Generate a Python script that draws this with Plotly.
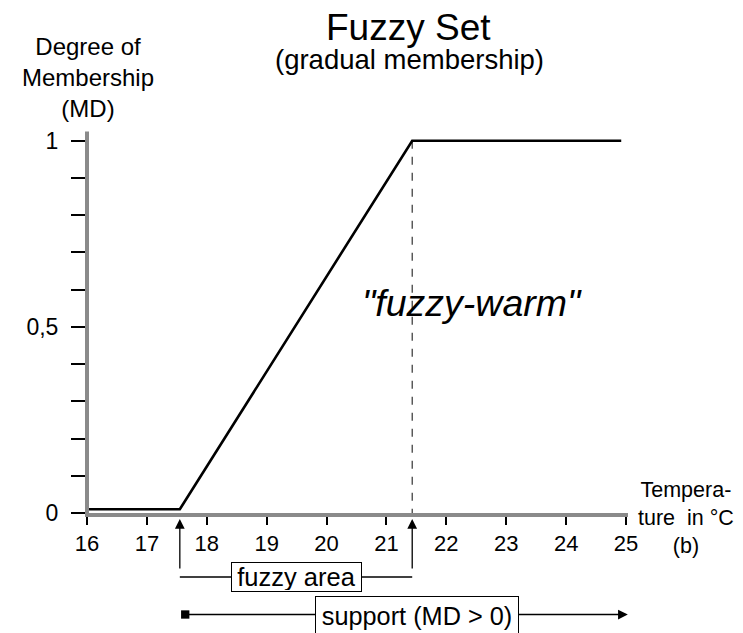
import plotly.graph_objects as go

# ---------------- data ----------------
temperature = [16.02, 17.55, 21.43, 24.92]
membership = [0.01, 0.01, 1.0, 1.0]

fuzzy_start = 17.55      # start of fuzzy area / support
fuzzy_end = 21.43        # full membership reached
support_end = 25.03      # support arrow reaches end of axis

x_tick_vals = [16, 17, 18, 19, 20, 21, 22, 23, 24, 25]
x_tick_text = ["16", "17", "18", "19", "20", "21", "22", "23", "24", "25"]
y_tick_vals = [0, 0.1, 0.2, 0.3, 0.4, 0.5, 0.6, 0.7, 0.8, 0.9, 1.0]
y_tick_text = ["0", "", "", "", "", "0,5", "", "", "", "", "1"]

# ---------------- layout geometry ----------------
OFF = 8                      # page body margin
W, H = 735, 625
L, R, T, B = 79, 115, 122, 120
PW = W - L - R
PH = H - T - B
BOTTOM = H - B

X_RANGE = [16, 25.033]
Y_RANGE = [0, 1.0287]

FONT = "Arial, 'Liberation Sans', sans-serif"


def px_x(p):
    """page pixel x -> paper fraction"""
    return (p - OFF - L) / PW


def px_y(p):
    """page pixel y -> paper fraction"""
    return (BOTTOM - (p - OFF)) / PH


fig = go.Figure()

# dashed guide at full membership
fig.add_trace(go.Scatter(
    x=[fuzzy_end, fuzzy_end], y=[1.0, 0.0], mode="lines",
    line=dict(color="#333333", width=1.2, dash="8px,8px"),
    hoverinfo="skip", showlegend=False))

# membership function
fig.add_trace(go.Scatter(
    x=temperature, y=membership, mode="lines",
    line=dict(color="black", width=2.6),
    hoverinfo="skip", showlegend=False))

shapes = [
    # y-axis gray line
    dict(type="line", xref="paper", yref="paper",
         x0=0, x1=0, y0=px_y(517), y1=px_y(131.5),
         line=dict(color="#8a8a8a", width=4)),
    # fuzzy area bracket horizontal line
    dict(type="line", xref="x", yref="paper",
         x0=fuzzy_start, x1=fuzzy_end, y0=px_y(577), y1=px_y(577),
         line=dict(color="black", width=1.3)),
]

annotations = []
# fuzzy area arrows
for xv in (fuzzy_start, fuzzy_end):
    annotations.append(dict(
        x=xv, y=px_y(519), xref="x", yref="paper", text=" ",
        showarrow=True, ax=0, ay=58, axref="pixel", ayref="pixel",
        arrowhead=2, arrowsize=1.5, arrowwidth=1.3, arrowcolor="black",
        standoff=0, startstandoff=0))
# support arrow
annotations.append(dict(
    x=support_end, y=px_y(614.5), xref="x", yref="paper", text=" ",
    showarrow=True, ax=fuzzy_start + 0.04, ay=0, axref="x", ayref="pixel",
    arrowside="end+start", arrowhead=2, startarrowhead=7,
    arrowsize=1.5, startarrowsize=1.6, arrowwidth=1.3, arrowcolor="black",
    standoff=0, startstandoff=0))
# boxes
annotations.append(dict(
    x=(fuzzy_start + fuzzy_end) / 2, y=px_y(576.5), xref="x", yref="paper",
    xanchor="center", yanchor="middle",
    text="fuzzy area", showarrow=False, font=dict(family=FONT, size=25.5, color="black"),
    bgcolor="white", bordercolor="black", borderwidth=1, borderpad=1,
    width=127, height=26))
annotations.append(dict(
    x=21.51, y=px_y(615.5), xref="x", yref="paper",
    xanchor="center", yanchor="middle",
    text="support (MD > 0)", showarrow=False, font=dict(family=FONT, size=25.3, color="black"),
    bgcolor="white", bordercolor="black", borderwidth=1, borderpad=1,
    width=200, height=35))


def label(x, y, text, size, align="center"):
    return dict(x=px_x(x), y=px_y(y), xref="paper", yref="paper", text=text,
                xanchor="center", yanchor="middle", align=align, showarrow=False,
                font=dict(family=FONT, size=size, color="black"))


annotations += [
    label(408, 27, "Fuzzy Set", 37),
    label(409, 60, "(gradual membership)", 27.5),
    label(88, 77, "Degree of<br>Membership<br>(MD)", 24),
    label(472, 303, "<i>\"fuzzy-warm\"</i>", 37.5),
    label(686, 518, "Tempera-<br>ture \u00a0in °C<br>(b)", 21.5),
]

fig.update_layout(
    width=W, height=H, autosize=False,
    margin=dict(l=L, r=R, t=T, b=B, pad=0),
    plot_bgcolor="white", paper_bgcolor="white",
    showlegend=False,
    font=dict(family=FONT, color="black"),
    shapes=shapes, annotations=annotations,
    xaxis=dict(range=X_RANGE, tickvals=x_tick_vals, ticktext=x_tick_text,
               ticks="outside", ticklen=8, tickwidth=1.5, tickcolor="black",
               showline=True, linewidth=4, linecolor="#8a8a8a",
               showgrid=False, zeroline=False, fixedrange=True,
               tickfont=dict(family=FONT, size=22, color="black"),
               ticklabelstandoff=0),
    yaxis=dict(range=Y_RANGE, tickvals=y_tick_vals, ticktext=y_tick_text,
               ticks="outside", ticklen=15, tickwidth=1.5, tickcolor="black",
               showline=False, showgrid=False, zeroline=False, fixedrange=True,
               tickfont=dict(family=FONT, size=23, color="black"),
               ticklabelstandoff=8),
)

fig.write_html("out.html")
